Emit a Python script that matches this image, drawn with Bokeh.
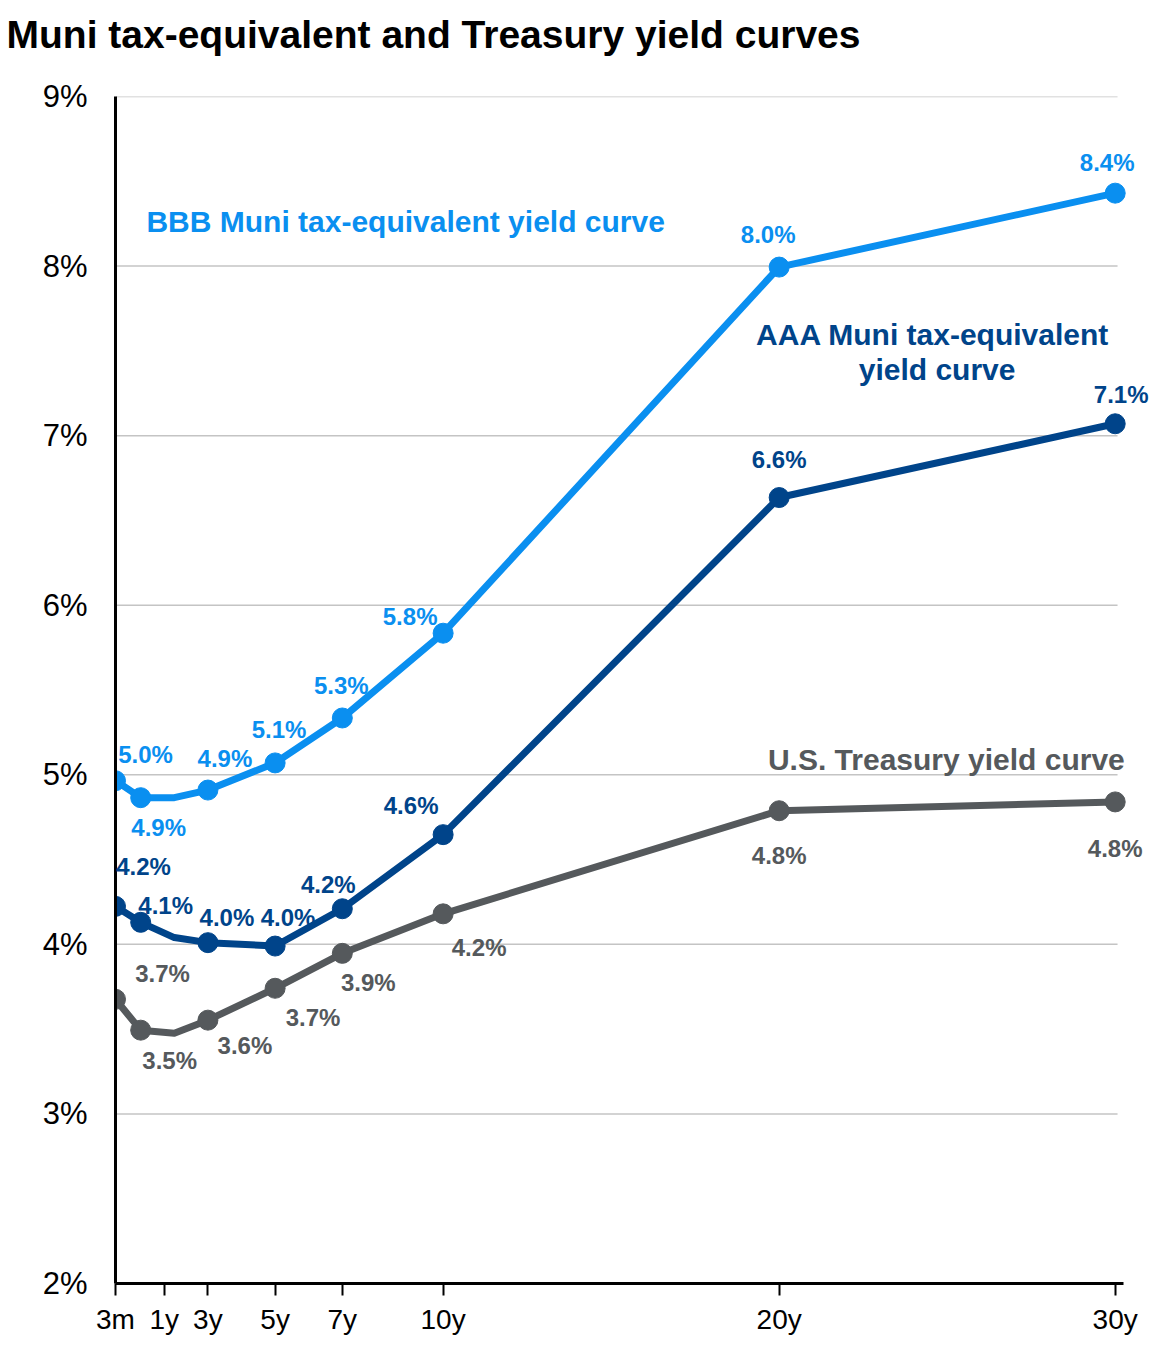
import bokeh.plotting
from bokeh.core.properties import value
from bokeh.embed import file_html
from bokeh.models import ColumnDataSource, FixedTicker, LabelSet, Title
from bokeh.resources import INLINE

# maturities in years (3m, 1y, 2y, 3y, 5y, 7y, 10y, 20y, 30y)
maturity = [0.25, 1, 2, 3, 5, 7, 10, 20, 30]
has_marker = [True, True, False, True, True, True, True, True, True]

bbb_yield = [4.965, 4.865, 4.865, 4.91, 5.07, 5.335, 5.835, 7.994, 8.43]
aaa_yield = [4.224, 4.13, 4.04, 4.01, 3.99, 4.21, 4.647, 6.635, 7.07]
ust_yield = [3.676, 3.494, 3.476, 3.553, 3.741, 3.947, 4.18, 4.788, 4.84]

x_tick_pos = [0.25, 1.7, 3, 5, 7, 10, 20, 30]
x_tick_labels = ["3m", "1y", "3y", "5y", "7y", "10y", "20y", "30y"]
y_ticks = [2, 3, 4, 5, 6, 7, 8, 9]

BBB_COLOR = "#0a8ff0"
AAA_COLOR = "#00448a"
UST_COLOR = "#55595c"
FONT = "Liberation Sans"

# label offsets in pixels (x right, y up) for each marked point
bbb_dx = [30, 18, 17, 4, -1, -33, -11, -8]
bbb_dy = [26, -30, 32, 33, 32, 17, 33, 31]
aaa_dx = [28, 25, 19, 13, -14, -32, 0, 6]
aaa_dy = [40, 17, 25, 29, 24, 29, 38, 29]
ust_dx = [47, 29, 37, 38, 26, 36, 0, 0]
ust_dy = [26, -30, -25, -29, -29, -34, -45, -47]

# plot area runs a bit past 30y so the end labels are not cut off
p = bokeh.plotting.figure(
    width=1157,
    height=1337,
    x_range=(0.25, 31.14),
    y_range=(2, 9),
    min_border_left=115,
    min_border_right=4,
    min_border_top=96,
    min_border_bottom=52,
    output_backend="svg",
    toolbar_location=None,
)
p.outline_line_color = None
p.background_fill_color = "white"
p.border_fill_color = "white"

# blank spacer between the plot and the title
p.add_layout(Title(text=" ", text_font_size="10px", standoff=26), "above")
p.add_layout(
    Title(
        text="Muni tax-equivalent and Treasury yield curves",
        text_font=FONT, text_font_size="39px", text_font_style="bold",
        text_color="black", vertical_align="top", offset=-109, standoff=0,
    ),
    "above",
)

# horizontal grid lines, drawn by hand so they stop at 30y
p.xgrid.grid_line_color = None
p.ygrid.grid_line_color = None
p.segment(
    x0=[0.25] * len(y_ticks), y0=y_ticks, x1=[30.07] * len(y_ticks), y1=y_ticks,
    line_color="#c4c4c4", line_width=1.5, level="underlay",
)

# y axis
p.yaxis.ticker = FixedTicker(ticks=y_ticks)
p.yaxis.major_label_overrides = {t: f"{t}%" for t in y_ticks}
p.yaxis.axis_line_color = "black"
p.yaxis.axis_line_width = 3
p.yaxis.major_tick_line_color = None
p.yaxis.minor_tick_line_color = None
p.yaxis.major_label_text_font = FONT
p.yaxis.major_label_text_font_size = "31px"
p.yaxis.major_label_text_color = "black"
p.yaxis.major_label_standoff = 22

# x axis
p.xaxis.ticker = FixedTicker(ticks=x_tick_pos)
p.xaxis.major_label_overrides = dict(zip(x_tick_pos, x_tick_labels))
p.xaxis.bounds = (0.25, 30.25)
p.xaxis.axis_line_color = "black"
p.xaxis.axis_line_width = 3
p.xaxis.major_tick_line_color = "black"
p.xaxis.major_tick_line_width = 2
p.xaxis.major_tick_in = 0
p.xaxis.major_tick_out = 12
p.xaxis.minor_tick_line_color = None
p.xaxis.major_label_text_font = FONT
p.xaxis.major_label_text_font_size = "28px"
p.xaxis.major_label_text_color = "black"
p.xaxis.major_label_standoff = 8

series = [
    (bbb_yield, BBB_COLOR, bbb_dx, bbb_dy),
    (aaa_yield, AAA_COLOR, aaa_dx, aaa_dy),
    (ust_yield, UST_COLOR, ust_dx, ust_dy),
]

for ys, color, dx, dy in series:
    p.line(maturity, ys, line_color=color, line_width=7, line_join="round")
    mx = [m for m, k in zip(maturity, has_marker) if k]
    my = [v for v, k in zip(ys, has_marker) if k]
    p.scatter(mx, my, size=20, fill_color=color, line_color=color)
    src = ColumnDataSource(dict(
        x=mx, y=my, label=[f"{v:.1f}%" for v in my], dx=dx, dy=dy,
    ))
    p.add_layout(LabelSet(
        x="x", y="y", text="label", x_offset="dx", y_offset="dy", source=src,
        text_font=value(FONT), text_font_size="24px", text_font_style="bold",
        text_color=color, text_align="center", text_baseline="middle",
    ))

# series labels
p.text(
    x=[1.17], y=[8.26], text=["BBB  Muni tax-equivalent yield curve"],
    text_font=value(FONT), text_font_size="30px", text_font_style="bold",
    text_color=BBB_COLOR, text_align="left", text_baseline="middle",
)
p.text(
    x=[24.57, 24.7], y=[7.594, 7.388],
    text=["AAA Muni tax-equivalent", "yield curve"],
    text_font=value(FONT), text_font_size="30px", text_font_style="bold",
    text_color=AAA_COLOR, text_align="center", text_baseline="middle",
)
p.text(
    x=[25.1], y=[5.088], text=["U.S.  Treasury yield curve"],
    text_font=value(FONT), text_font_size="30px", text_font_style="bold",
    text_color=UST_COLOR, text_align="center", text_baseline="middle",
)

open("out.html", "w").write(file_html(p, INLINE))
